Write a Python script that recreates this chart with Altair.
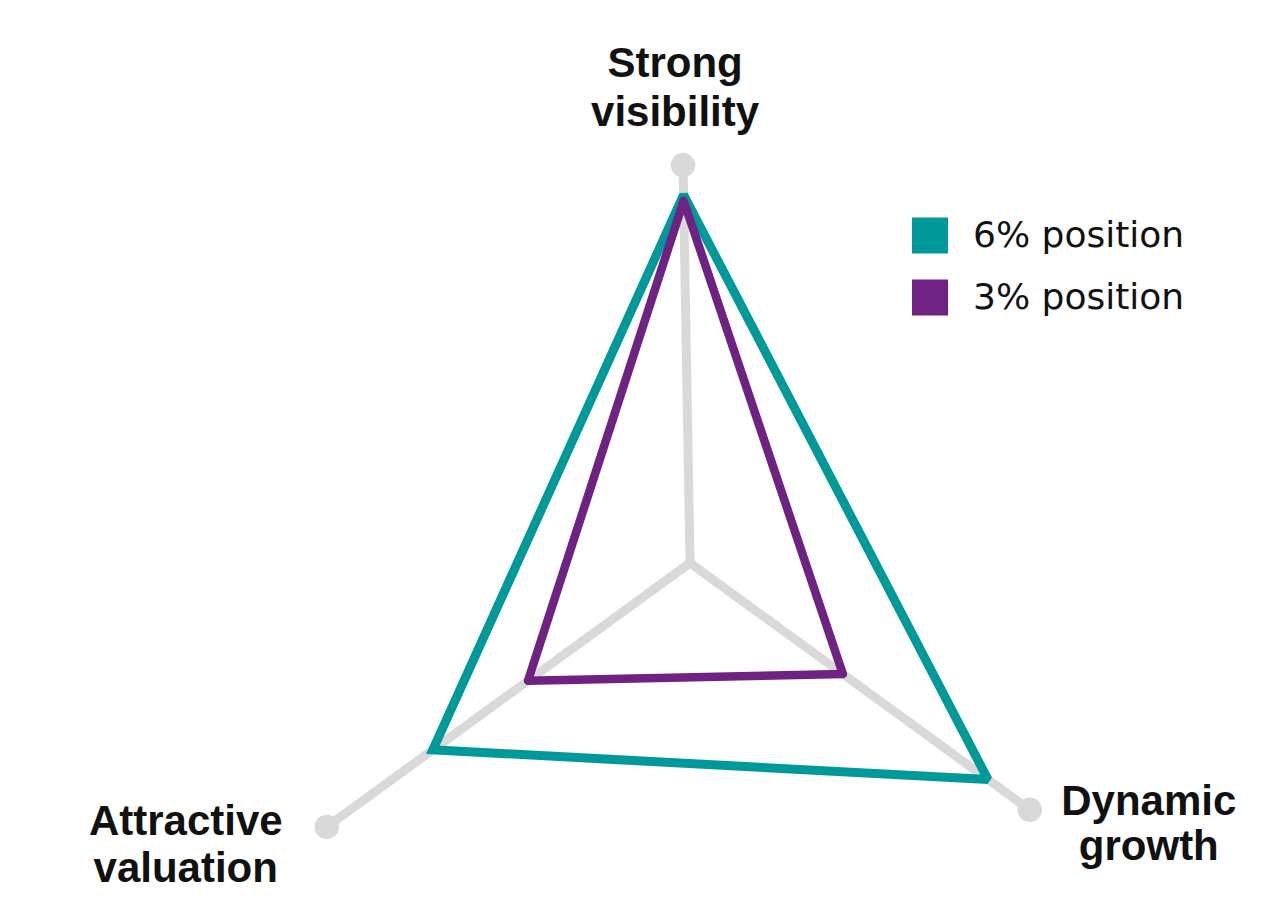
import math
import altair as alt
import pandas as pd

# ---- data ----
axis_names = ["Strong visibility", "Dynamic growth", "Attractive valuation"]
axis_label_text = ["Strong\nvisibility", "Dynamic\ngrowth", "Attractive\nvaluation"]
series_names = ["6% position", "3% position"]
values_6pct = [0.925, 0.877, 0.708]
values_3pct = [0.91, 0.45, 0.446]
series_colors = ["#00999a", "#6e2382"]

# ---- drawing geometry (style, not data) ----
axis_angle_deg = [91.0, -36.0, 216.0]
axis_length_px = [398, 420, 449]

def unit(i):
    a = math.radians(axis_angle_deg[i])
    return math.cos(a) * axis_length_px[i], math.sin(a) * axis_length_px[i]

axes_rows = []
for i, name in enumerate(axis_names):
    ex, ey = unit(i)
    axes_rows.append({"axis": name, "label": axis_label_text[i],
                      "x0": 0.0, "y0": 0.0, "x1": ex, "y1": ey})
axes_df = pd.DataFrame(axes_rows)

poly_rows = []
for s, vals in zip(series_names, [values_6pct, values_3pct]):
    for i, v in enumerate(vals):
        ex, ey = unit(i)
        poly_rows.append({"series": s, "order": i, "value": v,
                          "x": ex * v, "y": ey * v})
poly_df = pd.DataFrame(poly_rows)
legend_df = pd.DataFrame({"series": series_names, "color": series_colors})

xs = alt.Scale(domain=[-682, 568], nice=False, zero=False)
ys = alt.Scale(domain=[-343, 555], nice=False, zero=False)
line_scale = alt.Scale(domain=series_names, range=series_colors)

base_axes = alt.Chart(axes_df)
rules = base_axes.mark_rule(color="#d9d9d9", strokeWidth=9).encode(
    x=alt.X("x0:Q", scale=xs, axis=None),
    y=alt.Y("y0:Q", scale=ys, axis=None),
    x2="x1:Q", y2="y1:Q")
dots = base_axes.mark_circle(color="#d9d9d9", size=600, opacity=1).encode(
    x=alt.X("x1:Q", scale=xs, axis=None),
    y=alt.Y("y1:Q", scale=ys, axis=None))

layers = [rules, dots]
styles = [(9, "miter"), (8.5, "round")]
for s, (w, join) in zip(series_names, styles):
    layers.append(
        alt.Chart(poly_df).transform_filter(alt.datum.series == s)
        .mark_line(interpolate="linear-closed", strokeWidth=w,
                   strokeJoin=join, strokeMiterLimit=2)
        .encode(x=alt.X("x:Q", scale=xs, axis=None),
                y=alt.Y("y:Q", scale=ys, axis=None),
                stroke=alt.Stroke("series:N", scale=line_scale, legend=None),
                order="order:Q"))

# ---- legend (drawn as marks, positioned in pixels) ----
legend_sq_x, legend_txt_x = 922, 965
legend_rows_y = [227.5, 289.5]
for i, s in enumerate(series_names):
    sub = alt.Chart(legend_df).transform_filter(alt.datum.series == s)
    layers.append(sub.mark_square(size=1296, opacity=1).encode(
        x=alt.value(legend_sq_x), y=alt.value(legend_rows_y[i]),
        color=alt.Color("color:N", scale=None)))
    layers.append(sub.mark_text(font="DejaVu Sans", fontWeight="normal", fontSize=36,
                                align="left", baseline="alphabetic",
                                color="#111111").encode(
        x=alt.value(legend_txt_x), y=alt.value(legend_rows_y[i] + 11.5),
        text="series:N"))

label_style = {"Strong visibility": (-8, -88, 49),
               "Dynamic growth": (119, 5, 45),
               "Attractive valuation": (-141, 8, 47)}
for name in axis_names:
    dx, dy, lh = label_style[name]
    layers.append(
        alt.Chart(axes_df).transform_filter(alt.datum.axis == name)
        .mark_text(font="Liberation Sans", fontWeight="bold", fontSize=42,
                   align="center", baseline="alphabetic", lineBreak="\n",
                   lineHeight=lh, dx=dx, dy=dy, color="#111111")
        .encode(x=alt.X("x1:Q", scale=xs, axis=None),
                y=alt.Y("y1:Q", scale=ys, axis=None),
                text="label:N"))

chart = alt.layer(*layers).properties(
    width=1250, height=898, padding=0,
    autosize=alt.AutoSizeParams(type="none")
).configure_view(stroke=None)

chart.save("out.html", embed_options={"renderer": "svg", "actions": False})
